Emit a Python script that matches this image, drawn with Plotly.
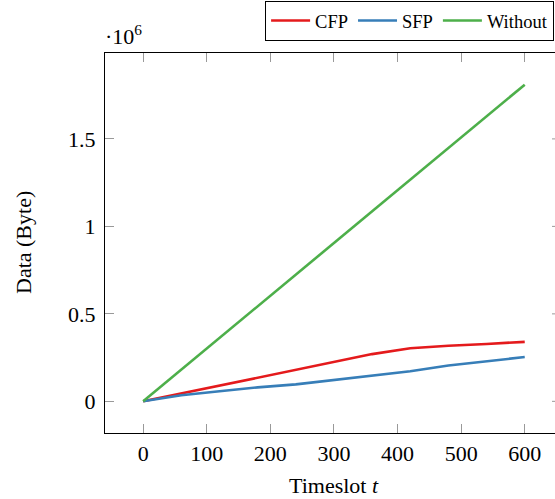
import plotly.graph_objects as go

# Cumulative transmitted data per timeslot
timeslot = [0, 60, 120, 180, 240, 300, 360, 420, 480, 540, 600]
cfp = [0, 45000, 90000, 135000, 180000, 225000, 270000, 303000, 318000, 328000, 340000]
sfp = [0, 35000, 58000, 80000, 97000, 122000, 145000, 172000, 205000, 230000, 253000]
without = [0, 181000, 362000, 543000, 724000, 905000, 1086000, 1267000, 1448000, 1629000, 1810000]

x_ticks = [0, 100, 200, 300, 400, 500, 600]
y_ticks = [0, 500000, 1000000, 1500000]
y_tick_text = ["0", "0.5", "1", "1.5"]

series = [
    ("CFP", cfp, "#e41a1c"),
    ("SFP", sfp, "#377eb8"),
    ("Without", without, "#4daf4a"),
]

font_main = "Liberation Serif"

fig = go.Figure()
for name, values, color in series:
    fig.add_trace(go.Scatter(
        x=timeslot, y=values, mode="lines", name=name,
        line=dict(color=color, width=2.6),
    ))

fig.update_layout(
    width=555, height=499,
    margin=dict(l=105, r=0, t=53, b=66),
    paper_bgcolor="white", plot_bgcolor="white",
    font=dict(family=font_main, size=22, color="black"),
    showlegend=True,
    legend=dict(
        orientation="h", x=0.998, xanchor="right", y=1.137, yanchor="top",
        bordercolor="black", borderwidth=1, bgcolor="white",
        font=dict(family=font_main, size=18.5),
        tracegroupgap=0, itemwidth=39,
    ),
)

fig.update_xaxes(
    range=[-60, 647.6], tickvals=x_ticks,
    showline=True, linecolor="black", linewidth=1.2, mirror="ticks",
    ticks="inside", ticklen=9, tickwidth=1, tickcolor="#999999",
    showgrid=False, zeroline=False,
    tickfont=dict(family=font_main, size=22),
)
fig.update_yaxes(
    range=[-181000, 1991000], tickvals=y_ticks, ticktext=y_tick_text,
    showline=True, linecolor="black", linewidth=1.2,
    ticks="inside", ticklen=9, tickwidth=1, tickcolor="#999999",
    ticklabelstandoff=4,
    showgrid=False, zeroline=False,
    tickfont=dict(family=font_main, size=22),
)

# Right-side y ticks (axis box continues past the page edge)
for v in y_ticks:
    fig.add_shape(type="line", xref="paper", yref="y",
                  x0=1 - 3 / 450, x1=1, y0=v, y1=v,
                  line=dict(color="#999999", width=1))

fig.add_annotation(
    text="Timeslot <i>t</i>", xref="x", yref="paper", x=300, y=0,
    yanchor="middle", yshift=-52, showarrow=False,
    font=dict(family=font_main, size=22),
)
fig.add_annotation(
    text="Data (Byte)", xref="paper", yref="paper", x=0, y=0.5,
    xanchor="center", yanchor="middle", xshift=-82, textangle=-90,
    showarrow=False, font=dict(family=font_main, size=22),
)
fig.add_annotation(
    text="·10<sup>6</sup>", xref="paper", yref="paper", x=0, y=1,
    xanchor="left", yanchor="bottom", xshift=-2, yshift=2,
    showarrow=False, font=dict(family=font_main, size=22),
)

fig.write_html("out.html")
